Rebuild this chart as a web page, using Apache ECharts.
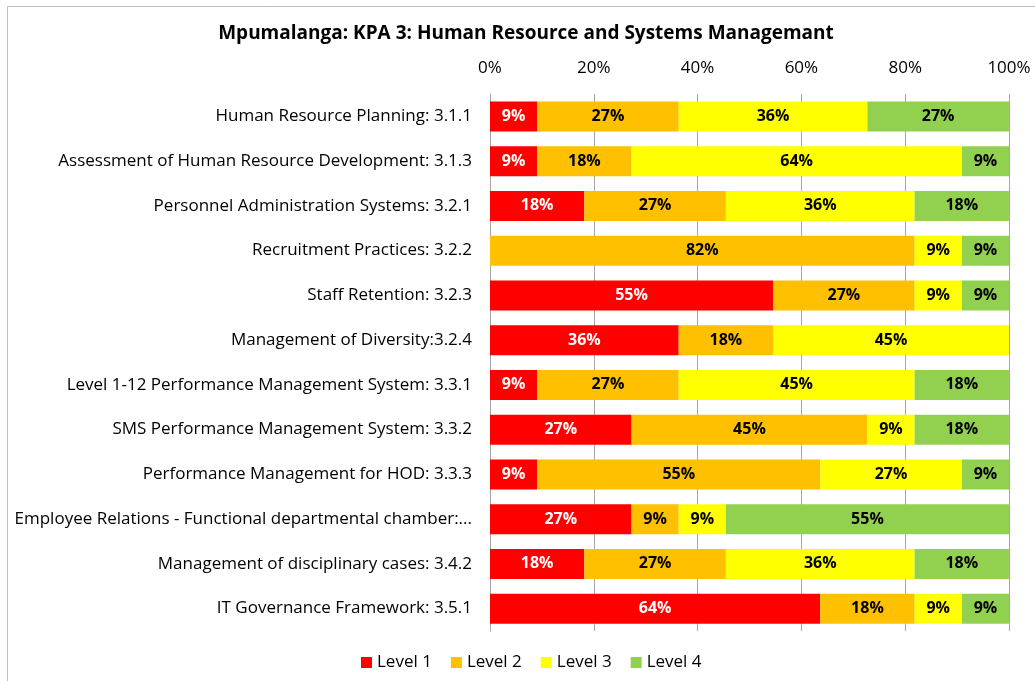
<!DOCTYPE html>
<html>
<head>
<meta charset="utf-8">
<script src="https://cdn.jsdelivr.net/npm/echarts@6/dist/echarts.min.js"></script>
<style>
  html, body { margin: 0; padding: 0; background: #fff; }
  #main { width: 1035px; height: 681px; }
</style>
</head>
<body>
<div id="main"></div>
<script>
// categories, top to bottom
const categories = [
  'Human Resource Planning: 3.1.1',
  'Assessment of Human Resource Development: 3.1.3',
  'Personnel Administration Systems: 3.2.1',
  'Recruitment Practices: 3.2.2',
  'Staff Retention: 3.2.3',
  'Management of Diversity:3.2.4',
  'Level 1-12 Performance Management System: 3.3.1',
  'SMS Performance Management System: 3.3.2',
  'Performance Management for HOD: 3.3.3',
  'Employee Relations - Functional departmental chamber:...',
  'Management of disciplinary cases: 3.4.2',
  'IT Governance Framework: 3.5.1'
];

// percent per level
const level1 = [9.09, 9.09, 18.18, 0, 54.55, 36.36, 9.09, 27.27, 9.09, 27.27, 18.18, 63.64];
const level2 = [27.27, 18.18, 27.27, 81.82, 27.27, 18.18, 27.27, 45.45, 54.55, 9.09, 27.27, 18.18];
const level3 = [36.36, 63.64, 36.36, 9.09, 9.09, 45.45, 45.45, 9.09, 27.27, 9.09, 36.36, 9.09];
const level4 = [27.27, 9.09, 18.18, 9.09, 9.09, 0, 18.18, 18.18, 9.09, 54.55, 18.18, 9.09];

const xTicks = [0, 20, 40, 60, 80, 100];

const seriesNames = ['Level 1', 'Level 2', 'Level 3', 'Level 4'];
const colors = ['#FF0000', '#FFC000', '#FFFF00', '#92D050'];
const font = '"Open Sans", Lato, sans-serif';

const chart = echarts.init(document.getElementById('main'));

function makeSeries(name, data, idx) {
  return {
    name: name,
    type: 'bar',
    stack: 'total',
    barWidth: 30,
    data: data,
    itemStyle: { color: colors[idx] },
    label: {
      show: true,
      position: 'inside',
      fontFamily: font,
      fontWeight: 'bold',
      fontSize: 16,
      color: idx === 0 ? '#fff' : '#000',
      formatter: p => p.value > 0 ? Math.round(p.value) + '%' : ''
    }
  };
}

chart.setOption({
  animation: false,
  textStyle: { fontFamily: font },
  title: {
    text: 'Mpumalanga: KPA 3: Human Resource and Systems Managemant',
    left: 521,
    textAlign: 'center',
    top: 19,
    textStyle: { fontFamily: font, fontSize: 19, fontWeight: 'bold', color: '#000' }
  },
  graphic: [{
    type: 'rect',
    shape: { x: 7.5, y: 6.5, width: 1040, height: 700 },
    style: { fill: 'none', stroke: '#bfbfbf', lineWidth: 1 },
    silent: true,
    z: -1
  }],
  legend: {
    bottom: 5,
    left: 356,
    itemWidth: 11,
    itemHeight: 11,
    itemGap: 19,
    icon: 'rect',
    textStyle: { fontFamily: font, fontSize: 17, color: '#000', padding: [0, 0, 0, 0] },
    data: seriesNames
  },
  grid: { left: 490, right: 26, top: 94, bottom: 50, containLabel: false },
  xAxis: {
    type: 'value',
    position: 'top',
    min: xTicks[0],
    max: xTicks[xTicks.length - 1],
    interval: 20,
    axisLine: { show: false },
    axisTick: { show: false },
    axisLabel: {
      formatter: '{value}%',
      fontFamily: font,
      fontSize: 17,
      color: '#000',
      margin: 17
    },
    splitLine: { show: true, lineStyle: { color: '#a6a6a6', width: 1 } }
  },
  yAxis: {
    type: 'category',
    inverse: true,
    data: categories,
    axisLine: { show: true, lineStyle: { color: '#a6a6a6' } },
    axisTick: { show: false },
    axisLabel: {
      fontFamily: font,
      fontSize: 17,
      color: '#000',
      margin: 18
    }
  },
  series: [
    makeSeries(seriesNames[0], level1, 0),
    makeSeries(seriesNames[1], level2, 1),
    makeSeries(seriesNames[2], level3, 2),
    makeSeries(seriesNames[3], level4, 3)
  ]
});
</script>
</body>
</html>
